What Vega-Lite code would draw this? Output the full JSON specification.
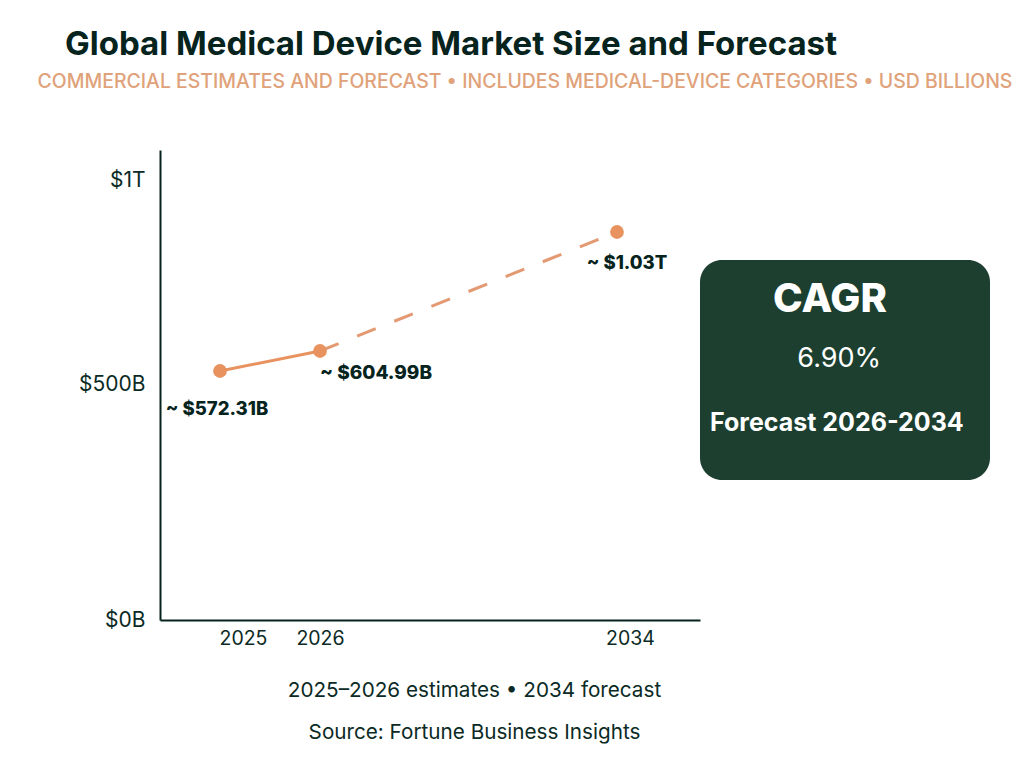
{
  "$schema": "https://vega.github.io/schema/vega-lite/v6.json",
  "width": 540,
  "height": 470,
  "autosize": "none",
  "padding": {"left": 160, "top": 150, "right": 324, "bottom": 148},
  "background": "white",
  "config": {"view": {"stroke": null}, "font": "Inter"},
  "title": {
    "text": "Global Medical Device Market Size and Forecast",
    "anchor": "start",
    "frame": "group",
    "dx": -95,
    "offset": 10,
    "fontSize": 33,
    "fontWeight": 700,
    "color": "#06231d"
  },
  "datasets": {
    "market": [
      {"year": 2025, "value": 572.31, "label": "~ $572.31B"},
      {"year": 2026, "value": 604.99, "label": "~ $604.99B"},
      {"year": 2034, "value": 1030, "label": "~ $1.03T"}
    ],
    "card": [
      {"text": "CAGR", "h": 0.448, "v": 0.182, "role": "head"},
      {"text": "6.90%", "h": 0.48, "v": 0.45, "role": "value"},
      {"text": "Forecast 2026-2034", "h": 0.472, "v": 0.741, "role": "note"}
    ],
    "header": [
      {"text": "COMMERCIAL ESTIMATES AND FORECAST • INCLUDES MEDICAL-DEVICE CATEGORIES • USD BILLIONS", "h": 0.5, "v": 0.5}
    ],
    "panel": [{"x0": 0, "x1": 1, "y0": 0, "y1": 1}]
  },
  "layer": [
    {
      "data": {"name": "market"},
      "encoding": {
        "x": {
          "field": "year",
          "type": "quantitative",
          "scale": {"domain": [2024.4, 2025, 2026, 2034, 2036.24], "range": [0, 60, 160, 457, 540], "nice": false, "zero": false},
          "axis": {
            "values": [2025.23, 2026, 2034.35],
            "labelExpr": "floor(datum.value)",
            "grid": false,
            "ticks": false,
            "domainColor": "#06231d",
            "domainWidth": 2,
            "labelColor": "#0b2a25",
            "labelFontSize": 19.5,
            "labelPadding": 9,
            "labelFlush": false,
            "title": ["2025–2026 estimates • 2034 forecast", "Source: Fortune Business Insights"],
            "titleFontSize": 20.7,
            "titleFontWeight": 400,
            "titleColor": "#0b2a25",
            "titleLineHeight": 42,
            "titleX": 314,
            "titleY": 60
          }
        },
        "y": {
          "field": "value",
          "type": "quantitative",
          "scale": {"domain": [0, 572.31, 604.99, 1030, 1200], "range": [470, 221, 201, 82, 0], "nice": false},
          "axis": {
            "values": [0, 542.4, 1137.8],
            "labelExpr": "datum.value == 0 ? '$0B' : datum.value < 1000 ? '$500B' : '$1T'",
            "grid": false,
            "ticks": false,
            "domainColor": "#06231d",
            "domainWidth": 2,
            "labelColor": "#0b2a25",
            "labelFontSize": 21,
            "labelPadding": 15,
            "labelFlush": false,
            "title": null
          }
        }
      },
      "layer": [
        {
          "transform": [{"filter": "datum.year <= 2026"}],
          "mark": {"type": "line", "color": "#e8935f", "strokeWidth": 3}
        },
        {
          "transform": [{"filter": "datum.year >= 2026"}],
          "mark": {"type": "line", "color": "#e39a73", "strokeWidth": 3, "strokeDash": [20, 20]}
        },
        {
          "mark": {"type": "point", "filled": true, "opacity": 1, "color": "#e8935f", "size": 190}
        },
        {
          "transform": [{"filter": "datum.year == 2025"}],
          "mark": {"type": "text", "fontSize": 18.5, "fontWeight": 800, "color": "#06231d", "dx": -3, "dy": 38},
          "encoding": {"text": {"field": "label"}}
        },
        {
          "transform": [{"filter": "datum.year == 2026"}],
          "mark": {"type": "text", "fontSize": 19, "fontWeight": 800, "color": "#06231d", "dx": 56, "dy": 22},
          "encoding": {"text": {"field": "label"}}
        },
        {
          "transform": [{"filter": "datum.year == 2034"}],
          "mark": {"type": "text", "fontSize": 18.5, "fontWeight": 800, "color": "#06231d", "dx": 10, "dy": 31},
          "encoding": {"text": {"field": "label"}}
        }
      ]
    },
    {
      "layer": [
        {
          "data": {"name": "panel"},
          "mark": {"type": "rect", "color": "#1c3f30", "cornerRadius": 22},
          "encoding": {
            "x": {"field": "x0", "type": "quantitative", "scale": {"domain": [0, 1], "range": [540, 830], "nice": false, "zero": false}, "axis": null},
            "x2": {"field": "x1"},
            "y": {"field": "y0", "type": "quantitative", "scale": {"domain": [0, 1], "range": [110, 330], "nice": false, "zero": false}, "axis": null},
            "y2": {"field": "y1"}
          }
        },
        {
          "data": {"name": "card"},
          "transform": [{"filter": "datum.role == 'head'"}],
          "mark": {"type": "text", "fontSize": 40, "fontWeight": 800, "color": "white"},
          "encoding": {
            "x": {"field": "h", "type": "quantitative", "axis": null},
            "y": {"field": "v", "type": "quantitative", "axis": null},
            "text": {"field": "text"}
          }
        },
        {
          "data": {"name": "card"},
          "transform": [{"filter": "datum.role == 'value'"}],
          "mark": {"type": "text", "fontSize": 27, "fontWeight": 400, "color": "white"},
          "encoding": {
            "x": {"field": "h", "type": "quantitative", "axis": null},
            "y": {"field": "v", "type": "quantitative", "axis": null},
            "text": {"field": "text"}
          }
        },
        {
          "data": {"name": "card"},
          "transform": [{"filter": "datum.role == 'note'"}],
          "mark": {"type": "text", "fontSize": 25, "fontWeight": 700, "color": "white"},
          "encoding": {
            "x": {"field": "h", "type": "quantitative", "axis": null},
            "y": {"field": "v", "type": "quantitative", "axis": null},
            "text": {"field": "text"}
          }
        }
      ]
    },
    {
      "data": {"name": "header"},
      "mark": {"type": "text", "fontSize": 19.45, "fontWeight": 500, "color": "#e0a27a"},
      "encoding": {
        "x": {"field": "h", "type": "quantitative", "scale": {"domain": [0, 1], "range": [-123, 853], "nice": false, "zero": false}, "axis": null},
        "y": {"field": "v", "type": "quantitative", "scale": {"domain": [0, 1], "range": [-78, -58], "nice": false, "zero": false}, "axis": null},
        "text": {"field": "text"}
      }
    }
  ],
  "resolve": {"scale": {"x": "independent", "y": "independent"}}
}
